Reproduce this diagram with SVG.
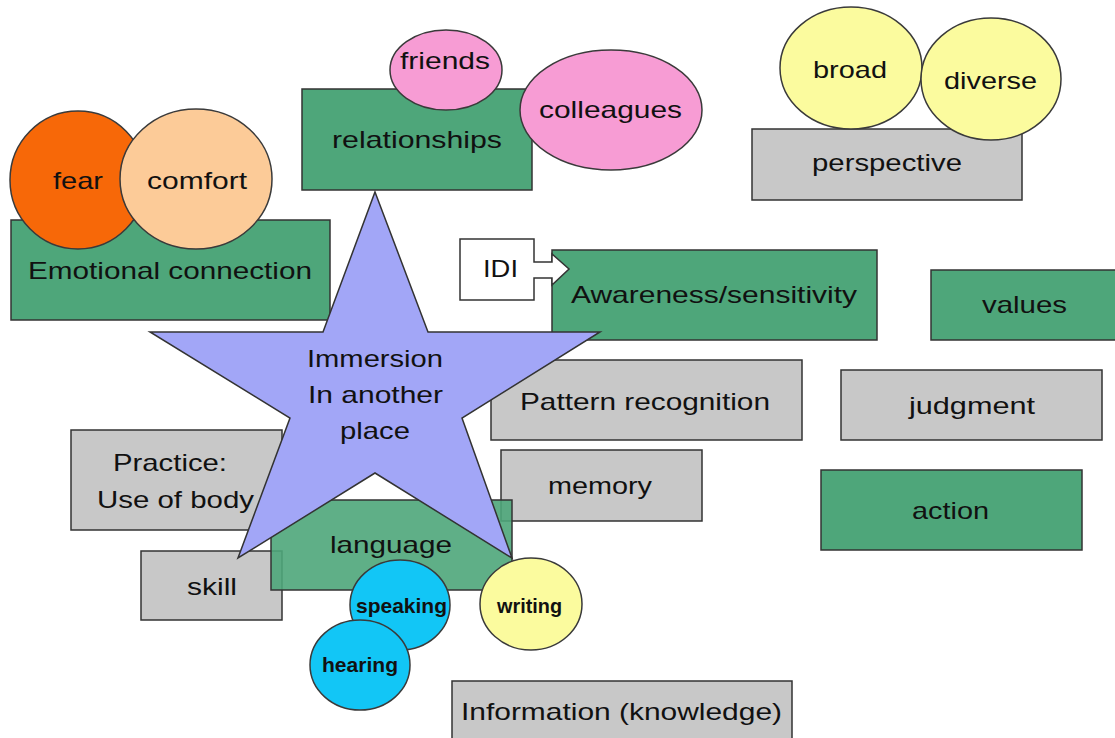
<svg xmlns="http://www.w3.org/2000/svg" width="1115" height="738" viewBox="0 0 1115 738">
  <style>
    .box { stroke: #333333; stroke-width: 1.5; }
    .green { fill: #4ea67a; }
    .grey { fill: #c8c8c8; }
    .bubble { stroke: #3a3a3a; stroke-width: 1.5; }
    text { font-family: "Liberation Sans", Arial, sans-serif; font-size: 24px; fill: #111111; }
    .small { font-size: 21px; font-weight: bold; }
  </style>
  <rect width="1115" height="738" fill="#ffffff"/>

  <g id="relationships">
    <rect class="box green" x="302" y="89" width="230" height="101"/>
    <text x="332" y="148" textLength="170" lengthAdjust="spacingAndGlyphs">relationships</text>
  </g>
  <g id="friends">
    <ellipse class="bubble" cx="446" cy="70" rx="56" ry="40" fill="#f79cd4"/>
    <text x="400" y="69" textLength="90" lengthAdjust="spacingAndGlyphs">friends</text>
  </g>
  <g id="colleagues">
    <ellipse class="bubble" cx="611" cy="110" rx="91" ry="60" fill="#f79cd4"/>
    <text x="539" y="118" textLength="143" lengthAdjust="spacingAndGlyphs">colleagues</text>
  </g>

  <g id="emotional-connection">
    <rect class="box green" x="11" y="220" width="319" height="100"/>
    <text x="28" y="279" textLength="284" lengthAdjust="spacingAndGlyphs">Emotional connection</text>
  </g>
  <g id="fear">
    <ellipse class="bubble" cx="78" cy="180" rx="68" ry="69" fill="#f76808"/>
    <text x="53" y="189" textLength="50" lengthAdjust="spacingAndGlyphs">fear</text>
  </g>
  <g id="comfort">
    <ellipse class="bubble" cx="196" cy="179" rx="76" ry="70" fill="#fccb98"/>
    <text x="147" y="189" textLength="100" lengthAdjust="spacingAndGlyphs">comfort</text>
  </g>

  <g id="perspective">
    <rect class="box grey" x="752" y="129" width="270" height="71"/>
    <text x="812" y="171" textLength="150" lengthAdjust="spacingAndGlyphs">perspective</text>
  </g>
  <g id="broad">
    <ellipse class="bubble" cx="851" cy="68" rx="71" ry="61" fill="#fbfb9e"/>
    <text x="813" y="78" textLength="74" lengthAdjust="spacingAndGlyphs">broad</text>
  </g>
  <g id="diverse">
    <ellipse class="bubble" cx="991" cy="79" rx="70" ry="61" fill="#fbfb9e"/>
    <text x="944" y="89" textLength="93" lengthAdjust="spacingAndGlyphs">diverse</text>
  </g>

  <g id="awareness">
    <rect class="box green" x="552" y="250" width="325" height="90"/>
    <text x="571" y="303" textLength="286" lengthAdjust="spacingAndGlyphs">Awareness/sensitivity</text>
  </g>
  <g id="idi">
    <path class="box" fill="#ffffff" d="M460,239 H534 V262 H552 V254 L569,269 L552,285 V278 H534 V300 H460 Z"/>
    <text x="483" y="277" textLength="35" lengthAdjust="spacingAndGlyphs">IDI</text>
  </g>

  <g id="values">
    <rect class="box green" x="931" y="270" width="190" height="70"/>
    <text x="982" y="313" textLength="85" lengthAdjust="spacingAndGlyphs">values</text>
  </g>
  <g id="judgment">
    <rect class="box grey" x="841" y="370" width="261" height="70"/>
    <text x="909" y="414" textLength="126" lengthAdjust="spacingAndGlyphs">judgment</text>
  </g>
  <g id="action">
    <rect class="box green" x="821" y="470" width="261" height="80"/>
    <text x="912" y="519" textLength="77" lengthAdjust="spacingAndGlyphs">action</text>
  </g>
  <g id="pattern-recognition">
    <rect class="box grey" x="491" y="360" width="311" height="80"/>
    <text x="520" y="410" textLength="250" lengthAdjust="spacingAndGlyphs">Pattern recognition</text>
  </g>
  <g id="memory">
    <rect class="box grey" x="501" y="450" width="201" height="71"/>
    <text x="548" y="494" textLength="104" lengthAdjust="spacingAndGlyphs">memory</text>
  </g>
  <g id="practice">
    <rect class="box grey" x="71" y="430" width="211" height="100"/>
    <text x="113" y="471" textLength="114" lengthAdjust="spacingAndGlyphs">Practice:</text>
    <text x="97" y="508" textLength="157" lengthAdjust="spacingAndGlyphs">Use of body</text>
  </g>
  <g id="skill">
    <rect class="box grey" x="141" y="551" width="141" height="69"/>
    <text x="187" y="595" textLength="50" lengthAdjust="spacingAndGlyphs">skill</text>
  </g>

  <!-- language sits slightly see-through over skill and memory -->
  <g id="language">
    <rect class="box green" x="271" y="500" width="241" height="90" fill-opacity="0.9"/>
    <text x="330" y="553" textLength="122" lengthAdjust="spacingAndGlyphs">language</text>
  </g>

  <g id="immersion">
    <polygon class="box" fill="#a2a6f7" points="375,192 428,332 600,332 462,418 512,558 375,473 238,558 290,418 150,332 323,332"/>
    <text x="307" y="367" textLength="136" lengthAdjust="spacingAndGlyphs">Immersion</text>
    <text x="308" y="403" textLength="135" lengthAdjust="spacingAndGlyphs">In another</text>
    <text x="340" y="439" textLength="70" lengthAdjust="spacingAndGlyphs">place</text>
  </g>

  <g id="speaking">
    <ellipse class="bubble" cx="400" cy="605" rx="50" ry="45" fill="#12c6f6"/>
    <text class="small" x="356" y="613" textLength="91" lengthAdjust="spacingAndGlyphs">speaking</text>
  </g>
  <g id="hearing">
    <ellipse class="bubble" cx="360" cy="665" rx="50" ry="45" fill="#12c6f6"/>
    <text class="small" x="322" y="672" textLength="76" lengthAdjust="spacingAndGlyphs">hearing</text>
  </g>
  <g id="writing">
    <ellipse class="bubble" cx="531" cy="604" rx="51" ry="46" fill="#fbfb9e"/>
    <text class="small" x="497" y="613" textLength="65" lengthAdjust="spacingAndGlyphs">writing</text>
  </g>

  <g id="information">
    <rect class="box grey" x="452" y="681" width="340" height="70"/>
    <text x="461" y="720" textLength="321" lengthAdjust="spacingAndGlyphs">Information (knowledge)</text>
  </g>

  <g id="connectors"></g>
</svg>
